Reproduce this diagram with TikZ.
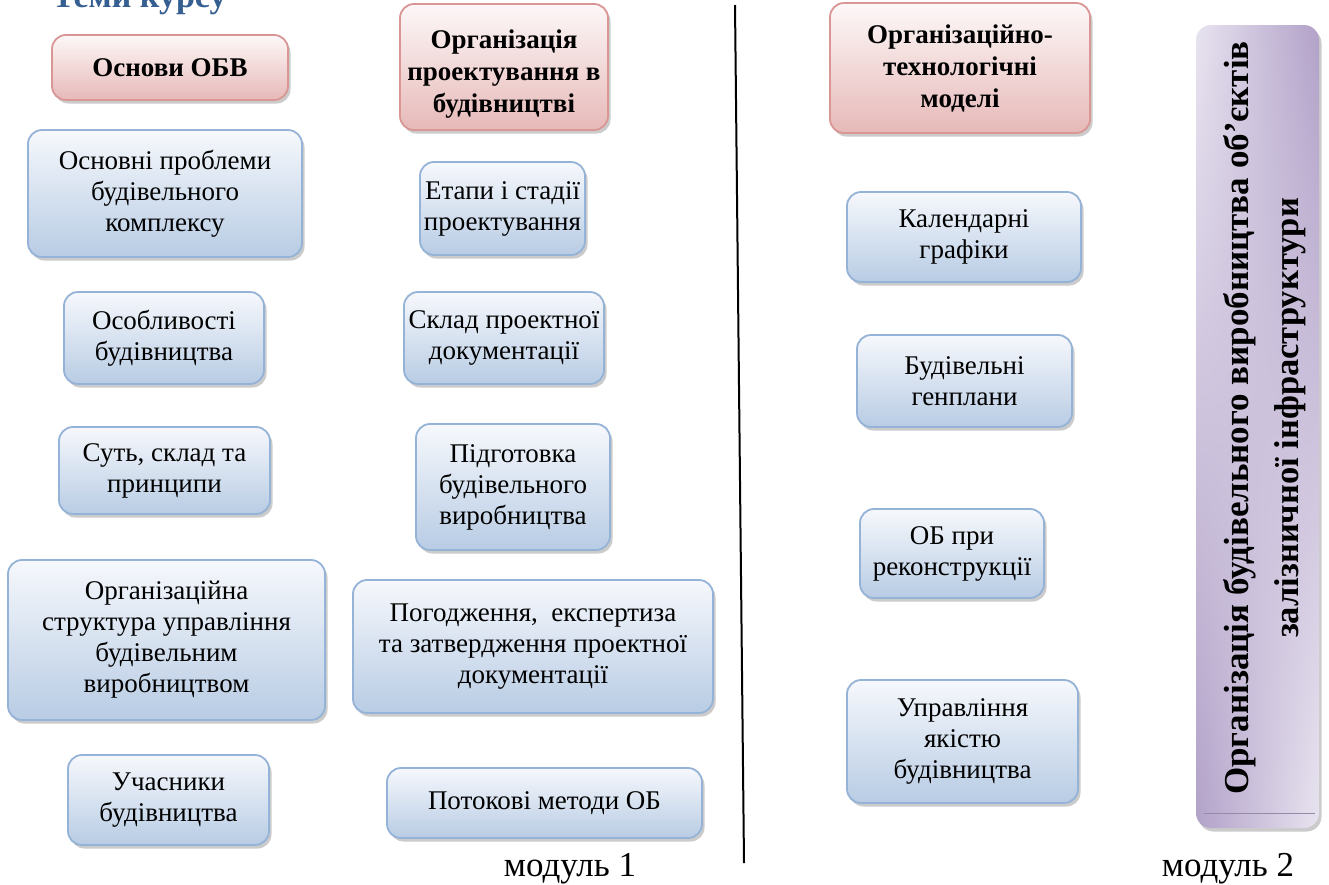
\documentclass[tikz,border=0pt]{standalone}
\usepackage{fontspec}
\setmainfont{Liberation Serif}
\usetikzlibrary{shadows}
\definecolor{blueborder}{HTML}{95B3D7}
\definecolor{bluetop}{HTML}{F6F8FC}
\definecolor{bluebot}{HTML}{B8CCE4}
\definecolor{pinkborder}{HTML}{D99694}
\definecolor{pinktop}{HTML}{FDF8F8}
\definecolor{pinkbot}{HTML}{E6B9B8}
\definecolor{lavdark}{HTML}{B1A1C8}
\definecolor{titleblue}{HTML}{365F91}
\pgfdeclarefunctionalshading{lavshade}{\pgfpointorigin}{\pgfpoint{100bp}{100bp}}{}{
 25 sub 50 div exch 25 sub 50 div exch
 2 copy mul 3 1 roll
 1 exch sub exch 1 exch sub mul add
 dup -0.215 mul 0.910 add exch
 dup -0.260 mul 0.892 add exch
 -0.155 mul 0.940 add
}
\tikzset{
  boxbase/.style={rounded corners=14pt, line width=1.8pt, inner sep=0pt, align=center,
    drop shadow={shadow xshift=2.5pt,shadow yshift=-3.5pt,opacity=0.45,fill=black!45}},
  bluebox/.style={boxbase, draw=blueborder, top color=bluetop, bottom color=bluebot,
    font=\fontsize{27}{31}\selectfont},
  pinkbox/.style={boxbase, draw=pinkborder, top color=pinktop, bottom color=pinkbot,
    font=\bfseries\fontsize{27}{32}\selectfont},
  pinktext/.style={inner sep=0pt, align=center, font=\bfseries\fontsize{27}{32}\selectfont},
  modlabel/.style={anchor=base, font=\fontsize{35}{38}\selectfont, inner sep=0pt},
}
\begin{document}
\begin{tikzpicture}[x=1pt,y=-1pt]
\useasboundingbox (0,0) rectangle (1329,884);
\clip (0,0) rectangle (1329,884);
\fill[white] (0,0) rectangle (1329,884);
% title (cut at top)
\node[anchor=base west, inner sep=0pt, text=titleblue, font=\bfseries\fontsize{34}{38}\selectfont] (title) at (52,7) {Теми курсу};
% column 1
\node[pinkbox, minimum width=236pt, minimum height=65pt] (h1) at (170,67.5) {Основи ОБВ};
\node[bluebox, minimum width=274pt, minimum height=127pt] (b11) at (165,193.5) {Основні проблеми\\будівельного\\комплексу};
\node[bluebox, minimum width=200pt, minimum height=92pt] (b12) at (164,338) {Особливості\\будівництва};
\node[bluebox, minimum width=211pt, minimum height=87pt] (b13) at (164.5,470.5) {Суть, склад та\\принципи};
\node[bluebox, minimum width=317pt, minimum height=160pt] (b14) at (166.5,640) {Організаційна\\структура управління\\будівельним\\виробництвом};
\node[bluebox, minimum width=201pt, minimum height=90pt] (b15) at (168.5,800) {Учасники\\будівництва};
% column 2
\node[pinkbox, minimum width=208pt, minimum height=126pt] (h2) at (504,67) {};
\node[pinktext] (h2t) at (504,74) {Організація\\проектування в\\будівництві};
\node[bluebox, minimum width=165pt, minimum height=93pt] (b21) at (502.5,208.5) {Етапи і стадії\\проектування};
\node[bluebox, minimum width=200pt, minimum height=92pt] (b22) at (504,338) {Склад проектної\\документації};
\node[bluebox, minimum width=194pt, minimum height=126pt] (b23) at (513,487) {Підготовка\\будівельного\\виробництва};
\node[bluebox, minimum width=360pt, minimum height=133pt] (b24) at (533,646.5) {Погодження,\ \ експертиза\\та затвердження проектної\\документації};
\node[bluebox, minimum width=315pt, minimum height=70pt] (b25) at (544.5,803) {Потокові методи ОБ};
\node[modlabel] (m1) at (570,876) {модуль 1};
% divider
\coordinate (lt) at (735,5);
\coordinate (lb) at (744,863);
\draw[line width=2pt] (lt) -- (lb);
% column 3
\node[pinkbox, minimum width=260pt, minimum height=130pt] (h3) at (960,68) {Організаційно-\\технологічні\\моделі};
\node[bluebox, minimum width=234pt, minimum height=90pt] (b31) at (964,237) {Календарні\\графіки};
\node[bluebox, minimum width=215pt, minimum height=92pt] (b32) at (964.5,381) {Будівельні\\генплани};
\node[bluebox, minimum width=184pt, minimum height=89pt] (b33) at (952,553.5) {ОБ при\\реконструкції};
\node[bluebox, minimum width=231pt, minimum height=123pt] (b34) at (962.5,741.5) {Управління\\якістю\\будівництва};
% right vertical box
\node[rounded corners=15pt, inner sep=0pt, minimum width=123pt, minimum height=803pt,
  shading=lavshade,
  drop shadow={shadow xshift=2.5pt,shadow yshift=-3.5pt,opacity=0.45,fill=black!45}] (rb) at (1257.5,426.5) {};
\draw[lavdark!85!black, line width=1pt] ([xshift=8pt,yshift=15pt]rb.south west) -- ([xshift=-4pt,yshift=15pt]rb.south east);
\node[rotate=90, align=center, inner sep=0pt, font=\bfseries\fontsize{35}{50}\selectfont] (rbt) at (1265,418)
  {Організація будівельного виробництва об’єктів\\\fontsize{34.5}{50}\selectfont залізничної інфраструктури};
\node[modlabel] (m2) at (1228,876) {модуль 2};
\end{tikzpicture}
\end{document}
